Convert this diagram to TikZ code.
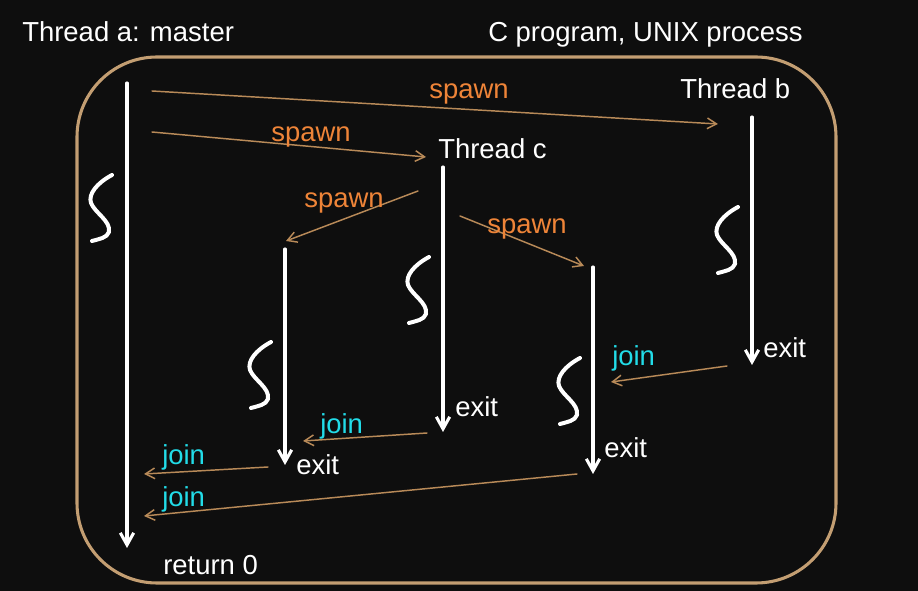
\documentclass[tikz,border=0pt]{standalone}
\usepackage{fontspec}
\setmainfont{Liberation Sans}
\usetikzlibrary{arrows.meta}
\definecolor{bgdark}{HTML}{0E0E0E}
\definecolor{frametan}{HTML}{C39E72}
\definecolor{arrowtan}{HTML}{B88A58}
\definecolor{spawnorange}{HTML}{EE8438}
\definecolor{joincyan}{HTML}{22DCE8}
\tikzset{
  thread/.style ={white, line width=2.3pt, -{Straight Barb[length=9pt,width=10pt]}},
  ctrl/.style   ={arrowtan, line width=1.1pt, -{Straight Barb[length=7pt,width=8pt]}},
  lbl/.style    ={anchor=base west, inner sep=0pt, text=white, font=\fontsize{20.6}{24}\selectfont},
  spawnlbl/.style={lbl, text=spawnorange},
  joinlbl/.style ={lbl, text=joincyan},
  squig/.pic={
    \draw[white, line width=3pt, line cap=round]
      (11,-33) .. controls (-4,-25) and (-13,-14) .. (-10,-5)
      .. controls (-6,5) and (10,13) .. (8,24)
      .. controls (6,30) and (-2,31) .. (-9,33);
  },
}

\begin{document}
\begin{tikzpicture}[x=0.75pt, y=-0.75pt, line cap=round, line join=round]
  %--- page and frame ---
  \useasboundingbox (0,0) rectangle (918,591);
  \fill[bgdark] (0,0) rectangle (918,591);
  \draw[frametan, line width=2.3pt, rounded corners=60pt] (77,57) rectangle (836,583);

  %--- titles ---
  \node[lbl] (tmaster) at (22,42) {Thread a: master};
  \node[lbl] (tproc) at (488,42) {C program, UNIX process};
  \node[lbl] (tb) at (680,99) {Thread b};
  \node[lbl] (tc) at (438,159) {Thread c};
  \node[lbl] (ret) at (163,575) {return 0};

  %--- thread life lines ---
  \coordinate (a0) at (127,83);   \coordinate (a1) at (127,548);
  \coordinate (b0) at (752,117);  \coordinate (b1) at (752,365);
  \coordinate (c0) at (443,167);  \coordinate (c1) at (443,432);
  \coordinate (d0) at (285,249);  \coordinate (d1) at (285,465);
  \coordinate (e0) at (593,267);  \coordinate (e1) at (593,474);
  \draw[thread] (a0) -- (a1);
  \draw[thread] (b0) -- (b1);
  \draw[thread] (c0) -- (c1);
  \draw[thread] (d0) -- (d1);
  \draw[thread] (e0) -- (e1);

  % running marks
  \pic at (101,208) {squig};
  \pic at (727,240) {squig};
  \pic at (418,290) {squig};
  \pic at (260,375) {squig};
  \pic at (569,391) {squig};

  %--- exits ---
  \node[lbl] (xb) at (763,358) {exit};
  \node[lbl] (xc) at (455,417) {exit};
  \node[lbl] (xd) at (296,475) {exit};
  \node[lbl] (xe) at (604,458) {exit};

  %--- spawns ---
  \coordinate (s1a) at (152,91);  \coordinate (s1b) at (718,124);
  \coordinate (s2a) at (152,132); \coordinate (s2b) at (426,157);
  \coordinate (s3a) at (418,191); \coordinate (s3b) at (286,241);
  \coordinate (s4a) at (460,216); \coordinate (s4b) at (584,266);
  \draw[ctrl] (s1a) -- (s1b);
  \draw[ctrl] (s2a) -- (s2b);
  \draw[ctrl] (s3a) -- (s3b);
  \draw[ctrl] (s4a) -- (s4b);
  \node[spawnlbl] (sp1) at (429,99) {spawn};
  \node[spawnlbl] (sp2) at (271,142) {spawn};
  \node[spawnlbl] (sp3) at (304,208) {spawn};
  \node[spawnlbl] (sp4) at (487,234) {spawn};

  %--- joins ---
  \coordinate (j1a) at (727,366); \coordinate (j1b) at (611,382);
  \coordinate (j2a) at (427,433); \coordinate (j2b) at (303,441);
  \coordinate (j3a) at (268,467); \coordinate (j3b) at (144,474);
  \coordinate (j4a) at (577,474); \coordinate (j4b) at (144,516);
  \draw[ctrl] (j1a) -- (j1b);
  \draw[ctrl] (j2a) -- (j2b);
  \draw[ctrl] (j3a) -- (j3b);
  \draw[ctrl] (j4a) -- (j4b);
  \node[joinlbl] (jn1) at (612,366) {join};
  \node[joinlbl] (jn2) at (320,434) {join};
  \node[joinlbl] (jn3) at (162,465) {join};
  \node[joinlbl] (jn4) at (162,507) {join};

\end{tikzpicture}
\end{document}
